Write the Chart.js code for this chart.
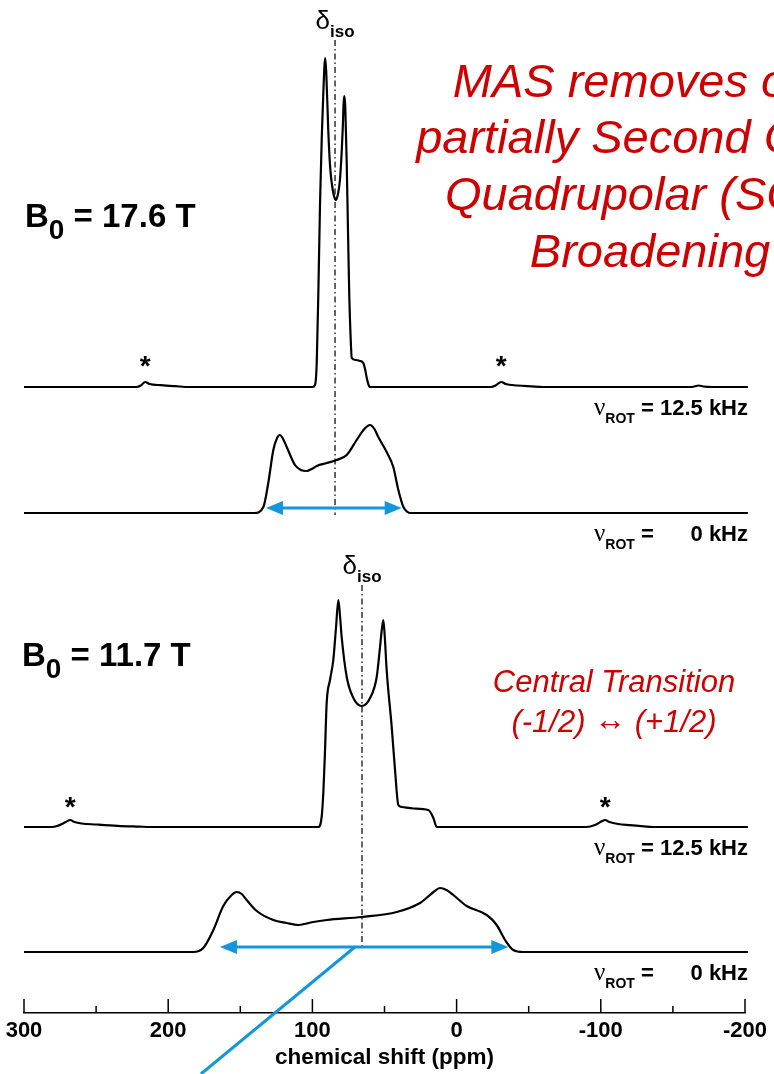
<!DOCTYPE html>
<html><head><meta charset="utf-8">
<script src="https://cdn.jsdelivr.net/npm/chart.js@4.4.1/dist/chart.umd.min.js"></script>
<style>html,body{margin:0;padding:0;background:#fff;}canvas{display:block}</style>
</head><body>
<canvas id="c" width="774" height="1074" style="width:774px;height:1074px"></canvas>
<script>
// ---------- DATA ----------
const majorTicks = [300, 200, 100, 0, -100, -200];
const minorTicks = [250, 150, 50, -50, -150];

// Trace 1: B0 = 17.6 T, MAS 12.5 kHz
const t1Ppm = [300,222,219,216,213,205,195,185,100,98.2,97.0,95.8,94.7,93.5,92.4,91.6,91.1,90.4,89.0,87.8,86.6,85.2,83.8,82.4,80.9,79.7,79.0,78.3,77.8,77.2,76.2,75.3,74.4,73.5,72.7,70,67,64.7,63.5,62.3,61,60,-24,-27,-31,-34,-42,-52,-60,-163,-168,-171,-178,-202];
const t1Int = [0,0,1.5,5,3,1.8,0.8,0,0,2,24,100,184,250,295,322,329,315,257,222,204,192,187,192,207,235,257,285,291,280,224,155,90,50,29,27,26,24,18,9,2,0,0,1.5,5,3,1.5,0.6,0,0,1.5,0.5,0,0];

// Trace 2: B0 = 17.6 T, static
const t2Ppm = [300,140.2,134.0,130.6,127.1,124.5,122.5,120.3,117.8,112.1,108,104.0,100.5,97.0,90.1,83.2,76.2,69.3,64,60.0,57,54.3,48.5,43.9,40.4,36.9,34,32.3,-202];
const t2Int = [0,0,6,30,63,75,78,74,66,48,43,42,44,47,50,53,58,73,84,88,84,76,61,46,23,6,1,0,0];

// Trace 3: B0 = 11.7 T, MAS 12.5 kHz
const t3Ppm = [300,281,277,271,268,265,260,250,235,220,212,96.0,93.6,92.4,91.3,90.1,87.8,85.5,83.6,82.0,80.8,79.7,76.2,71.6,65.8,60.0,55.4,53.1,51.9,50.8,49.8,48.5,45.0,42.7,40.4,38.0,30,19.6,16.1,13.8,-90,-96,-101,-103,-106,-112,-120,-130,-136,-202];
const t3Int = [0,0,1,5,7,5,3.5,2.5,1.2,0.4,0,0,10,35,74,124,147,167,200,227,210,190,150,129,121,129,150,180,197,207,190,157,100,57,22,20,18.5,17,9,0,0,2,6,7,5,3,1.8,0.6,0,0];

// Trace 4: B0 = 11.7 T, static
const t4Ppm = [300,182.6,175.7,168.7,161.8,156,152.5,149,145.6,138.6,127.1,118,109.8,104,99.4,90.1,65.8,41.5,25.4,16,11.5,7,2.3,-7.0,-20.9,-27.8,-33.6,-39.3,-46.3,-202];
const t4Int = [0,0,4,22,46,57,60,58,52,41,32,29,27,28.5,30,32,35,40,49,60,64,62,57,46,37,27,12,2,0,0];

// vertical stacking baselines of the four traces (y units)
const traceOffsets = [626, 500, 186, 61];

// spinning sidebands (ppm) marked with *
const sideband1Ppm = [216, -31];
const sideband3Ppm = [268, -103];

// isotropic shift lines (ppm) and their vertical extent (y units)
const isoPpm = [84.3, 65.6];
const isoTop = [973, 428];
const isoBottom = [498, 65];

// blue double arrows: [fromPpm, toPpm], on trace 2 and trace 4
const arrowA = [132.2, 38.1];
const arrowB = [164.1, -35.9];
// diagonal pointer: [ppm, y] start and end
const pointerStart = [70.5, 66];
const pointerEnd = [177.3, -61];

const FONT = "'Liberation Sans', Arial, Helvetica, sans-serif";

function mk(ppm, ints, off){ return ppm.map((p,i)=>({x:p, y:ints[i]+off})); }

const annot = {
  id:'annot',
  afterDatasetsDraw(chart){
    const {ctx, scales:{x, y}} = chart;
    const X = v => x.getPixelForValue(v);
    const Y = v => y.getPixelForValue(v);
    ctx.save();
    // tick marks (inward)
    ctx.strokeStyle = '#000'; ctx.lineWidth = 1.5; ctx.lineCap='butt';
    const yb = y.bottom;
    majorTicks.forEach(v=>{ctx.beginPath();ctx.moveTo(X(v),yb);ctx.lineTo(X(v),yb-14);ctx.stroke();});
    minorTicks.forEach(v=>{ctx.beginPath();ctx.moveTo(X(v),yb);ctx.lineTo(X(v),yb-7);ctx.stroke();});

    // iso lines
    ctx.lineWidth = 1.2; ctx.setLineDash([6,3,1.5,3]);
    isoPpm.forEach((p,i)=>{ctx.beginPath();ctx.moveTo(X(p),Y(isoTop[i]));ctx.lineTo(X(p),Y(isoBottom[i]));ctx.stroke();});
    ctx.setLineDash([]);
    // delta iso labels
    isoPpm.forEach((p,i)=>{
      const top = Y(isoTop[i]);
      ctx.font = "26px " + FONT; const wd = ctx.measureText('δ').width;
      ctx.font = "bold 17px " + FONT; const wi = ctx.measureText('iso').width;
      const sx = X(p) - (wd+wi)/2;
      ctx.fillStyle='#000'; ctx.textAlign='left'; ctx.textBaseline='alphabetic';
      ctx.font = "26px " + FONT; ctx.fillText('δ', sx, top-11);
      ctx.font = "bold 17px " + FONT; ctx.fillText('iso', sx+wd, top-3);
    });

    // blue arrows
    const blue = '#1496dc';
    ctx.strokeStyle = blue; ctx.fillStyle = blue; ctx.lineWidth = 3;
    function dbl(a, off){
      const yy = Y(off+5), x1 = X(a[0]), x2 = X(a[1]);
      ctx.beginPath(); ctx.moveTo(x1+10, yy); ctx.lineTo(x2-10, yy); ctx.stroke();
      ctx.beginPath(); ctx.moveTo(x1, yy); ctx.lineTo(x1+17, yy-7); ctx.lineTo(x1+17, yy+7); ctx.closePath(); ctx.fill();
      ctx.beginPath(); ctx.moveTo(x2, yy); ctx.lineTo(x2-17, yy-7); ctx.lineTo(x2-17, yy+7); ctx.closePath(); ctx.fill();
    }
    dbl(arrowA, traceOffsets[1]);
    dbl(arrowB, traceOffsets[3]);
    ctx.beginPath(); ctx.moveTo(X(pointerStart[0]), Y(pointerStart[1])); ctx.lineTo(X(pointerEnd[0]), Y(pointerEnd[1])); ctx.stroke();

    // asterisks
    ctx.fillStyle = '#000'; ctx.textAlign='center'; ctx.textBaseline='alphabetic';
    ctx.font = "bold 28px " + FONT;
    sideband1Ppm.forEach(p=>ctx.fillText('*', X(p), Y(traceOffsets[0]) - 28 + 16));
    sideband3Ppm.forEach(p=>ctx.fillText('*', X(p), Y(traceOffsets[2]) - 27 + 16));

    // B0 labels
    function b0(text, x0, base){
      ctx.textAlign='left'; ctx.fillStyle='#000';
      ctx.font = "bold 33px " + FONT; ctx.fillText('B', x0, base);
      const wb = ctx.measureText('B').width;
      ctx.font = "bold 28px " + FONT; ctx.fillText('0', x0+wb, base+12);
      const w0 = ctx.measureText('0').width;
      ctx.font = "bold 33px " + FONT; ctx.fillText(' = ' + text, x0+wb+w0, base);
    }
    b0('17.6 T', 25, 227);
    b0('11.7 T', 22, 666);

    // nu_ROT labels
    function nu(base, rate){
      const fNu = "25px 'Liberation Serif', 'DejaVu Serif', serif";
      const fSub = "bold 14px " + FONT;
      const fMain = "bold 22px " + FONT;
      ctx.font = fNu; const wNu = ctx.measureText('ν').width;
      ctx.font = fSub; const wSub = ctx.measureText('ROT').width;
      ctx.font = fMain; const wRest = ctx.measureText(' = 12.5 kHz').width;
      const right = 748;
      const x0 = right - wNu - wSub - wRest;
      ctx.textAlign='left'; ctx.fillStyle='#000';
      ctx.font = fNu; ctx.fillText('ν', x0, base);
      ctx.font = fSub; ctx.fillText('ROT', x0+wNu, base+8);
      ctx.font = fMain;
      if (rate === '12.5') ctx.fillText(' = 12.5 kHz', x0+wNu+wSub, base);
      else { ctx.fillText(' =', x0+wNu+wSub, base); ctx.textAlign='right'; ctx.fillText('0 kHz', right, base); }
    }
    nu(Y(traceOffsets[0])+28, '12.5');
    nu(Y(traceOffsets[1])+28, '0');
    nu(Y(traceOffsets[2])+28, '12.5');
    nu(Y(traceOffsets[3])+28, '0');

    // red annotations
    ctx.fillStyle = '#cc0000'; ctx.textAlign='center';
    ctx.font = "italic 47px " + FONT;
    ['MAS removes only','partially Second Order','Quadrupolar (SOQ)','Broadening'].forEach((s,i)=>ctx.fillText(s, 650, [97,153,210,267][i]));
    ctx.font = "italic 31px " + FONT;
    ctx.fillText('Central Transition', 614, 692);
    // second line in pieces so the arrow uses a thinner glyph
    const fA = "italic 31px " + FONT, fB = "32px 'Liberation Serif', 'DejaVu Serif', serif";
    ctx.font = fA; const wl = ctx.measureText('(-1/2) ').width, wr = ctx.measureText(' (+1/2)').width;
    ctx.font = fB; const wm = ctx.measureText('↔').width;
    let sx = 614 - (wl+wm+wr)/2;
    ctx.textAlign='left';
    ctx.font = fA; ctx.fillText('(-1/2) ', sx, 732);
    ctx.font = fB; ctx.fillText('↔', sx+wl, 730);
    ctx.font = fA; ctx.fillText(' (+1/2)', sx+wl+wm, 732);
    ctx.restore();
  }
};

const ds = (ppm, ints, off) => ({
  data: mk(ppm, ints, off), borderColor:'#000', borderWidth:2.2, pointRadius:0,
  fill:false, cubicInterpolationMode:'monotone', clip:false
});

new Chart(document.getElementById('c'), {
  type:'line',
  data:{ datasets:[
    ds(t1Ppm, t1Int, traceOffsets[0]),
    ds(t2Ppm, t2Int, traceOffsets[1]),
    ds(t3Ppm, t3Int, traceOffsets[2]),
    ds(t4Ppm, t4Int, traceOffsets[3])
  ]},
  options:{
    responsive:false, animation:false, devicePixelRatio:1,
    layout:{padding:{left:24, right:29, top:13, bottom:0}},
    plugins:{legend:{display:false}, tooltip:{enabled:false}},
    scales:{
      x:{type:'linear', reverse:true, min:-200, max:300, position:'bottom',
        grid:{display:false, drawTicks:false},
        border:{display:true, color:'#000', width:1.5},
        ticks:{stepSize:100, color:'#000', font:{family:FONT, size:22, weight:'bold'}, padding:5, maxRotation:0, autoSkip:false},
        title:{display:true, text:'chemical shift (ppm)', color:'#000', font:{family:FONT, size:22.5, weight:'bold'}, padding:{top:0, bottom:3}},
        afterFit(s){ s.height = 61; }
      },
      y:{type:'linear', display:false, min:0, max:1000}
    }
  },
  plugins:[annot]
});
</script>
</body></html>
